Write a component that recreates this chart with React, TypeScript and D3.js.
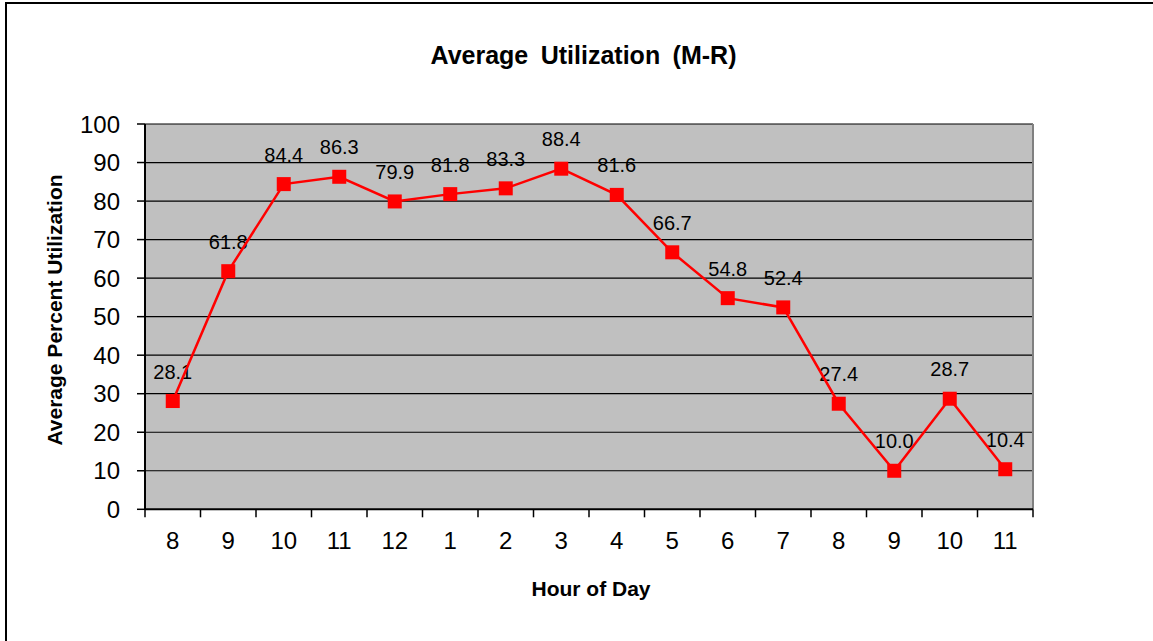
import React from "react";
import * as d3 from "d3";

const hours = ["8", "9", "10", "11", "12", "1", "2", "3", "4", "5", "6", "7", "8", "9", "10", "11"];
const utilization = [28.1, 61.8, 84.4, 86.3, 79.9, 81.8, 83.3, 88.4, 81.6, 66.7, 54.8, 52.4, 27.4, 10.0, 28.7, 10.4];
const labels = ["28.1", "61.8", "84.4", "86.3", "79.9", "81.8", "83.3", "88.4", "81.6", "66.7", "54.8", "52.4", "27.4", "10.0", "28.7", "10.4"];
const yTicks = [0, 10, 20, 30, 40, 50, 60, 70, 80, 90, 100];

const W = 1153;
const H = 641;
const plot = { left: 145, right: 1033, top: 124, bottom: 509.3 };
const FONT = "Liberation Sans, Arial, sans-serif";

export default function App() {
  const idx = hours.map((_, i) => i);
  const x = d3.scaleBand<number>().domain(idx).range([plot.left, plot.right]).padding(0);
  const y = d3.scaleLinear().domain([0, 100]).range([plot.bottom, plot.top]);
  const cx = (i: number) => (x(i) as number) + x.bandwidth() / 2;
  const line = d3
    .line<number>()
    .x((_, i) => cx(i))
    .y((d) => y(d));
  const boundaries = d3.range(hours.length + 1).map((i) => plot.left + i * x.bandwidth());
  const ms = 14;

  return (
    <svg
      width={W}
      height={H}
      style={{ position: "absolute", left: 0, top: 0, background: "#fff" }}
      fontFamily={FONT}
    >
      <rect x={6} y={3} width={1300} height={800} fill="#fff" stroke="#000" strokeWidth={2} />
      <text
        x={583.5}
        y={64}
        textAnchor="middle"
        fontWeight="bold"
        fontSize={25}
        style={{ wordSpacing: "5.5px" }}
        fill="#000"
      >
        Average Utilization (M-R)
      </text>

      <rect
        x={plot.left}
        y={plot.top}
        width={plot.right - plot.left}
        height={plot.bottom - plot.top}
        fill="#C0C0C0"
      />
      {yTicks.map((t) =>
        t > 0 ? (
          <line key={"g" + t} x1={plot.left} x2={plot.right} y1={y(t)} y2={y(t)} stroke="#000" strokeWidth={1.2} />
        ) : null
      )}
      <line x1={plot.right} x2={plot.right} y1={plot.top} y2={plot.bottom} stroke="#808080" strokeWidth={2} />

      {/* data labels (under line) */}
      {utilization.map((v, i) => (
        <text key={"l" + i} x={cx(i)} y={y(v) - 22.5} textAnchor="middle" fontSize={20} fill="#000">
          {labels[i]}
        </text>
      ))}

      <path d={line(utilization) || ""} fill="none" stroke="#FF0000" strokeWidth={2.5} />
      {utilization.map((v, i) => (
        <rect key={"m" + i} x={cx(i) - ms / 2} y={y(v) - ms / 2} width={ms} height={ms} fill="#FF0000" />
      ))}

      {/* axes */}
      <line x1={plot.left} x2={plot.left} y1={plot.top} y2={plot.bottom} stroke="#000" strokeWidth={2} />
      <line x1={plot.left} x2={plot.right} y1={plot.bottom} y2={plot.bottom} stroke="#000" strokeWidth={2} />
      {yTicks.map((t) => (
        <g key={"y" + t}>
          <line x1={plot.left - 8} x2={plot.left} y1={y(t)} y2={y(t)} stroke="#000" strokeWidth={1.5} />
          <text x={120} y={y(t) + 8.5} textAnchor="end" fontSize={24} fill="#000">
            {t}
          </text>
        </g>
      ))}
      {boundaries.map((b, i) => (
        <line key={"xt" + i} x1={b} x2={b} y1={plot.bottom} y2={plot.bottom + 8} stroke="#000" strokeWidth={1.5} />
      ))}
      {hours.map((h, i) => (
        <text key={"x" + i} x={cx(i)} y={549} textAnchor="middle" fontSize={24} fill="#000">
          {h}
        </text>
      ))}

      <text x={591} y={596} textAnchor="middle" fontWeight="bold" fontSize={21} fill="#000">
        Hour of Day
      </text>
      <text
        transform={`translate(62, 310) rotate(-90)`}
        textAnchor="middle"
        fontWeight="bold"
        fontSize={21}
        fill="#000"
      >
        Average Percent Utilization
      </text>
    </svg>
  );
}
